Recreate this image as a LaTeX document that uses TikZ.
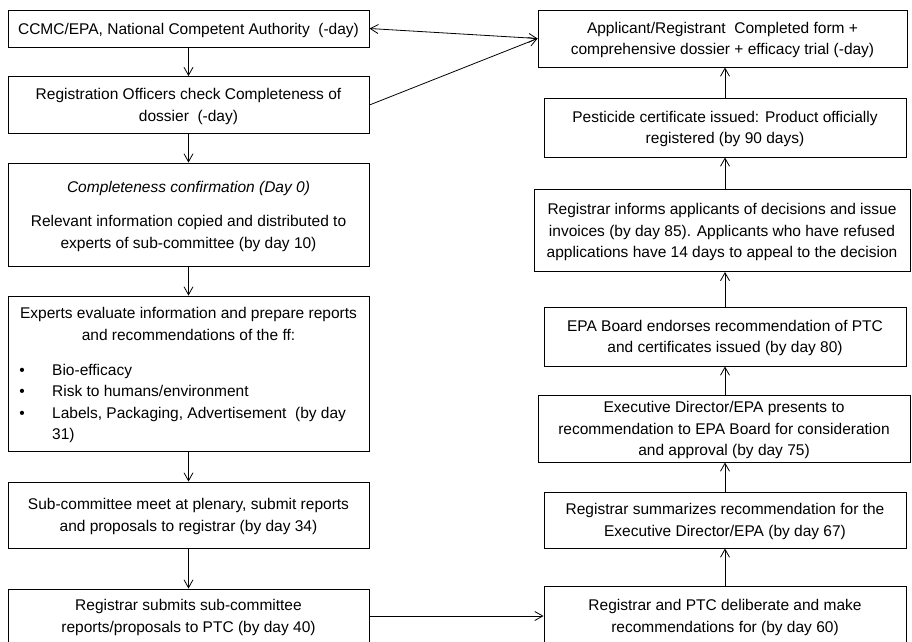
\documentclass[tikz,border=0pt]{standalone}
\usepackage{fontspec}
\setmainfont{Liberation Sans}
\usetikzlibrary{arrows.meta}
\newcommand{\mystrut}{\rule[-5pt]{0pt}{21pt}}
\begin{document}
\begin{tikzpicture}[x=1pt,y=-1pt,
  box/.style={draw=black,line width=0.9pt,inner sep=0pt,align=center,
    font=\fontsize{15.5}{21.7}\selectfont},
  txt/.style={inner sep=0pt,anchor=base,font=\fontsize{15.5}{21.7}\selectfont},
  conn/.style={line width=0.8pt,-{Straight Barb[length=8pt,width=9pt]}},
  conn2/.style={line width=0.8pt,{Straight Barb[length=8pt,width=9pt]}-{Straight Barb[length=8pt,width=9pt]}}]
\useasboundingbox (0,0) rectangle (912,641);
\clip (0,0) rectangle (912,641);
\fill[white] (0,0) rectangle (912,641);
% left column
\node[box,minimum width=361pt,minimum height=37pt] (L1) at (188.5,28.5)
  {\mystrut CCMC/EPA, National Competent Authority \ (-day)\mystrut};
\node[box,minimum width=361pt,minimum height=57pt] (L2) at (188.5,105)
  {\mystrut Registration Officers check Completeness of\\dossier \ (-day)\mystrut};
\node[box,minimum width=361pt,minimum height=103pt] (L3) at (188.5,214.5)
  {\mystrut\textit{Completeness confirmation (Day 0)}\\[12.6pt]Relevant information copied and distributed to\\experts of sub-committee (by day 10)\mystrut};
\node[box,minimum width=361pt,minimum height=155pt] (L4) at (188.5,373.5) {};
\node[txt] (L4a) at (188.5,318) {Experts evaluate information and prepare reports};
\node[txt] (L4b) at (188.5,340) {and recommendations of the ff:};
\node[txt] (b1) at (22,375) {•};
\node[txt] (b2) at (22,396) {•};
\node[txt] (b3) at (22,418) {•};
\node[txt,anchor=base west] (t1) at (52,375) {Bio-efficacy};
\node[txt,anchor=base west] (t2) at (52,396) {Risk to humans/environment};
\node[txt,anchor=base west] (t3) at (52,418) {Labels, Packaging, Advertisement \ (by day};
\node[txt,anchor=base west] (t4) at (52,439.5) {31)};
\node[box,minimum width=361pt,minimum height=66pt] (L5) at (188.5,515)
  {\mystrut Sub-committee meet at plenary, submit reports\\and proposals to registrar (by day 34)\mystrut};
\node[box,minimum width=361pt,minimum height=54pt] (L6) at (188.5,616)
  {\mystrut Registrar submits sub-committee\\reports/proposals to PTC (by day 40)\mystrut};
% right column
\node[box,minimum width=369pt,minimum height=57pt] (R1) at (722.5,38.5)
  {\mystrut Applicant/Registrant \ Completed form +\\comprehensive dossier + efficacy trial (-day)\mystrut};
\node[box,minimum width=362pt,minimum height=59pt] (R2) at (725,127.5)
  {\mystrut Pesticide certificate issued: Product officially\\registered (by 90 days)\mystrut};
\node[box,minimum width=376pt,minimum height=82pt] (R3) at (722,230.5)
  {\mystrut Registrar informs applicants of decisions and issue\\invoices (by day 85). Applicants who have refused\\applications have 14 days to appeal to the decision\mystrut};
\node[box,minimum width=362pt,minimum height=59pt] (R4) at (725,336.5)
  {\mystrut EPA Board endorses recommendation of PTC\\and certificates issued (by day 80)\mystrut};
\node[box,minimum width=372pt,minimum height=67pt] (R5) at (724,428.5)
  {\mystrut Executive Director/EPA presents to\\recommendation to EPA Board for consideration\\and approval (by day 75)\mystrut};
\node[box,minimum width=362pt,minimum height=56pt] (R6) at (725,520)
  {\mystrut Registrar summarizes recommendation for the\\Executive Director/EPA (by day 67)\mystrut};
\node[box,minimum width=362pt,minimum height=60pt] (R7) at (725,616)
  {\mystrut Registrar and PTC deliberate and make\\recommendations for (by day 60)\mystrut};
% connectors
\draw[conn] (L1.south) -- (L2.north);
\draw[conn] (L2.south) -- (L3.north);
\draw[conn] (L3.south) -- (L4.north);
\draw[conn] (L4.south) -- (L5.north);
\draw[conn] (L5.south) -- (L6.north);
\draw[conn2] (L1.east) -- (R1.west);
\draw[conn] (L2.east) -- (R1.west);
\draw[conn] (L6.east) -- (R7.west);
\draw[conn] (R7.north) -- (R7.north |- R6.south);
\draw[conn] (R6.north) -- (R6.north |- R5.south);
\draw[conn] (R5.north -| R6.north) -- (R6.north |- R4.south);
\draw[conn] (R4.north) -- (R4.north |- R3.south);
\draw[conn] (R3.north -| R4.north) -- (R4.north |- R2.south);
\draw[conn] (R2.north) -- (R2.north |- R1.south);
\end{tikzpicture}
\end{document}
